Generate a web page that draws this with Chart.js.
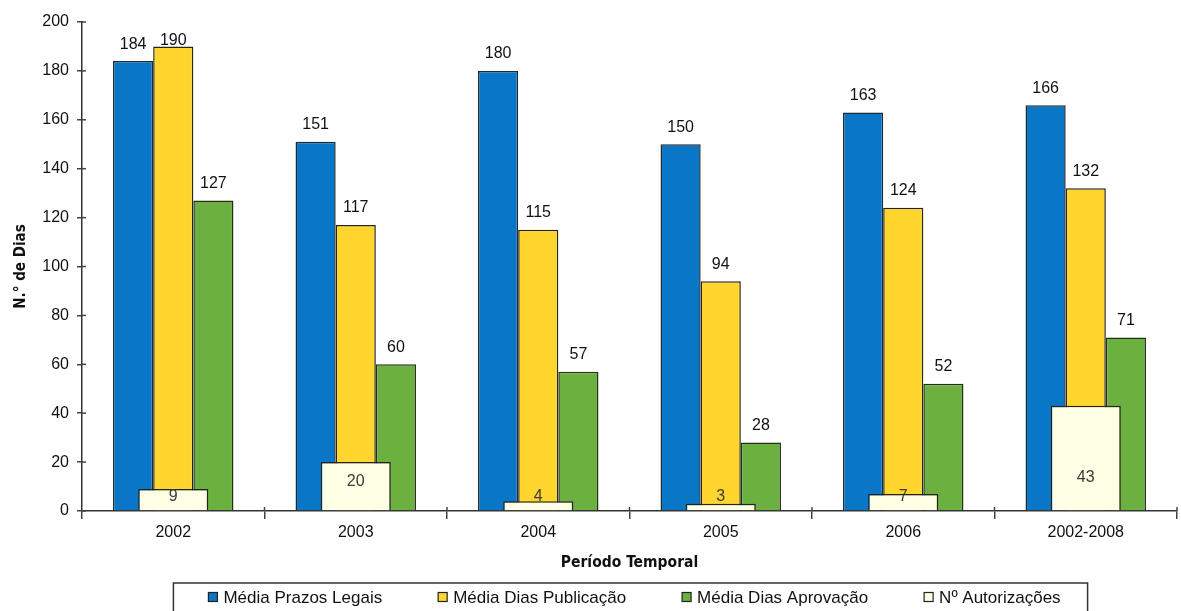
<!DOCTYPE html>
<html lang="pt">
<head>
    <meta charset="UTF-8">
    <title>N.º de Dias por Período Temporal</title>
    <script src="https://cdn.jsdelivr.net/npm/chart.js"></script>
    <style>
        html, body { margin: 0; padding: 0; background: #fff; }
        #wrap { width: 1181px; height: 611px; }
    </style>
</head>
<body>
    <div id="wrap"><canvas id="diasChart"></canvas></div>

    <script>
        // dados
        const periodos = ['2002', '2003', '2004', '2005', '2006', '2002-2008'];
        const prazosLegais = [184, 151, 180, 150, 163, 166];
        const diasPublicacao = [190, 117, 115, 94, 124, 132];
        const diasAprovacao = [127, 60, 57, 28, 52, 71];
        const autorizacoes = [9, 20, 4, 3, 7, 43];
        const yTicks = [0, 20, 40, 60, 80, 100, 120, 140, 160, 180, 200];

        const narrow = "'Liberation Sans Narrow', 'DejaVu Sans Condensed', 'Liberation Sans', sans-serif";
        const sans = "'Liberation Sans', Arial, sans-serif";

        // valores por cima das barras (e dentro das barras brancas)
        const valueLabels = {
            id: 'valueLabels',
            afterDatasetsDraw(chart) {
                const ctx = chart.ctx;
                const area = chart.chartArea;
                ctx.save();
                ctx.font = '16px ' + sans;
                ctx.textAlign = 'center';
                ctx.textBaseline = 'middle';
                chart.data.datasets.forEach((ds, i) => {
                    const meta = chart.getDatasetMeta(i);
                    meta.data.forEach((bar, j) => {
                        const v = ds.data[j];
                        if (ds.inside) {
                            const h = bar.base - bar.y;
                            const off = Math.min(33, Math.max(14, h * 0.6));
                            ctx.fillStyle = '#3a3a3a';
                            ctx.fillText(v, bar.x, bar.base - off);
                        } else {
                            ctx.fillStyle = '#111';
                            ctx.fillText(v, bar.x, Math.max(bar.y - 17, area.top + 19));
                        }
                    });
                });
                ctx.restore();
            }
        };

        // traços dos eixos do lado de dentro + legenda com moldura
        const extras = {
            id: 'extras',
            afterDraw(chart) {
                const ctx = chart.ctx;
                const y = chart.scales.y;
                const x = chart.scales.x;
                ctx.save();
                ctx.strokeStyle = '#444';
                ctx.lineWidth = 1.5;
                y.ticks.forEach((t, i) => {
                    const py = y.getPixelForTick(i);
                    ctx.beginPath();
                    ctx.moveTo(x.left, py);
                    ctx.lineTo(x.left + 4, py);
                    ctx.stroke();
                });
                for (let i = 1; i <= periodos.length; i++) {
                    const px = x.left + (x.right - x.left) * i / periodos.length;
                    ctx.beginPath();
                    ctx.moveTo(px, y.bottom - 4);
                    ctx.lineTo(px, y.bottom);
                    ctx.stroke();
                }

                // legenda
                const sq = 9, gapText = 6, gapItem = 56;
                ctx.font = '17px ' + sans;
                ctx.textBaseline = 'middle';
                ctx.textAlign = 'left';
                const items = chart.data.datasets.map(ds => ({
                    label: ds.label, fill: ds.backgroundColor, w: ctx.measureText(ds.label).width
                }));
                let total = 0;
                items.forEach((it, k) => { total += sq + gapText + it.w + (k ? gapItem : 0); });
                const cx = (x.left + x.right) / 2 + 5;
                let lx = cx - total / 2;
                const cy = 597;
                ctx.strokeStyle = '#333';
                ctx.lineWidth = 1.5;
                ctx.strokeRect(lx - 35, 583, total + 35 + 27, 40);
                items.forEach(it => {
                    ctx.fillStyle = it.fill;
                    ctx.fillRect(lx, cy - sq / 2, sq, sq);
                    ctx.lineWidth = 1.2;
                    ctx.strokeStyle = '#222';
                    ctx.strokeRect(lx, cy - sq / 2, sq, sq);
                    ctx.fillStyle = '#111';
                    ctx.fillText(it.label, lx + sq + gapText, cy + 1);
                    lx += sq + gapText + it.w + gapItem;
                });
                ctx.restore();
            }
        };

        const ctxDias = document.getElementById('diasChart').getContext('2d');
        const diasChart = new Chart(ctxDias, {
            type: 'bar',
            data: {
                labels: periodos,
                datasets: [
                    {
                        label: 'Média Prazos Legais',
                        data: prazosLegais,
                        backgroundColor: '#0a76c6',
                        borderColor: '#1d2a33',
                        borderWidth: 1.5,
                        categoryPercentage: 0.66,
                        barPercentage: 1.0
                    },
                    {
                        label: 'Média Dias Publicação',
                        data: diasPublicacao,
                        backgroundColor: '#ffd52e',
                        borderColor: '#2a2615',
                        borderWidth: 1.5,
                        categoryPercentage: 0.66,
                        barPercentage: 1.0
                    },
                    {
                        label: 'Média Dias Aprovação',
                        data: diasAprovacao,
                        backgroundColor: '#6cb13f',
                        borderColor: '#23301a',
                        borderWidth: 1.5,
                        categoryPercentage: 0.66,
                        barPercentage: 1.0
                    },
                    {
                        label: 'Nº Autorizações',
                        data: autorizacoes,
                        backgroundColor: '#ffffe6',
                        borderColor: '#222',
                        borderWidth: 1.5,
                        grouped: false,
                        order: -1,
                        inside: true,
                        categoryPercentage: 0.384,
                        barPercentage: 1.0
                    }
                ]
            },
            options: {
                responsive: true,
                maintainAspectRatio: false,
                animation: false,
                layout: { padding: { top: 22, right: 4, left: 0, bottom: 37 } },
                plugins: {
                    tooltip: { enabled: false },
                    legend: { display: false }
                },
                scales: {
                    x: {
                        afterFit: scale => { scale.height = 63; },
                        grid: { drawOnChartArea: false, drawTicks: true, tickLength: 8, color: '#444', lineWidth: 1.5 },
                        border: { color: '#333', width: 1.5 },
                        ticks: { font: { family: sans, size: 16 }, color: '#111', padding: 4 },
                        title: {
                            display: true,
                            text: 'Período Temporal',
                            font: { family: narrow, size: 15.5, weight: 'bold' },
                            color: '#111',
                            padding: { top: 2, bottom: 2 }
                        }
                    },
                    y: {
                        min: 0,
                        max: 200,
                        afterBuildTicks: scale => { scale.ticks = yTicks.map(v => ({ value: v })); },
                        afterFit: scale => { scale.width = 82; },
                        grid: { drawOnChartArea: false, drawTicks: true, tickLength: 5, color: '#444', lineWidth: 1.5 },
                        border: { color: '#333', width: 1.5 },
                        ticks: { font: { family: sans, size: 16 }, color: '#111', padding: 8 },
                        title: {
                            display: true,
                            text: 'N.° de Dias',
                            font: { family: narrow, size: 15, weight: 'bold' },
                            color: '#111',
                            padding: { top: 12 }
                        }
                    }
                }
            },
            plugins: [valueLabels, extras]
        });
    </script>
</body>
</html>
